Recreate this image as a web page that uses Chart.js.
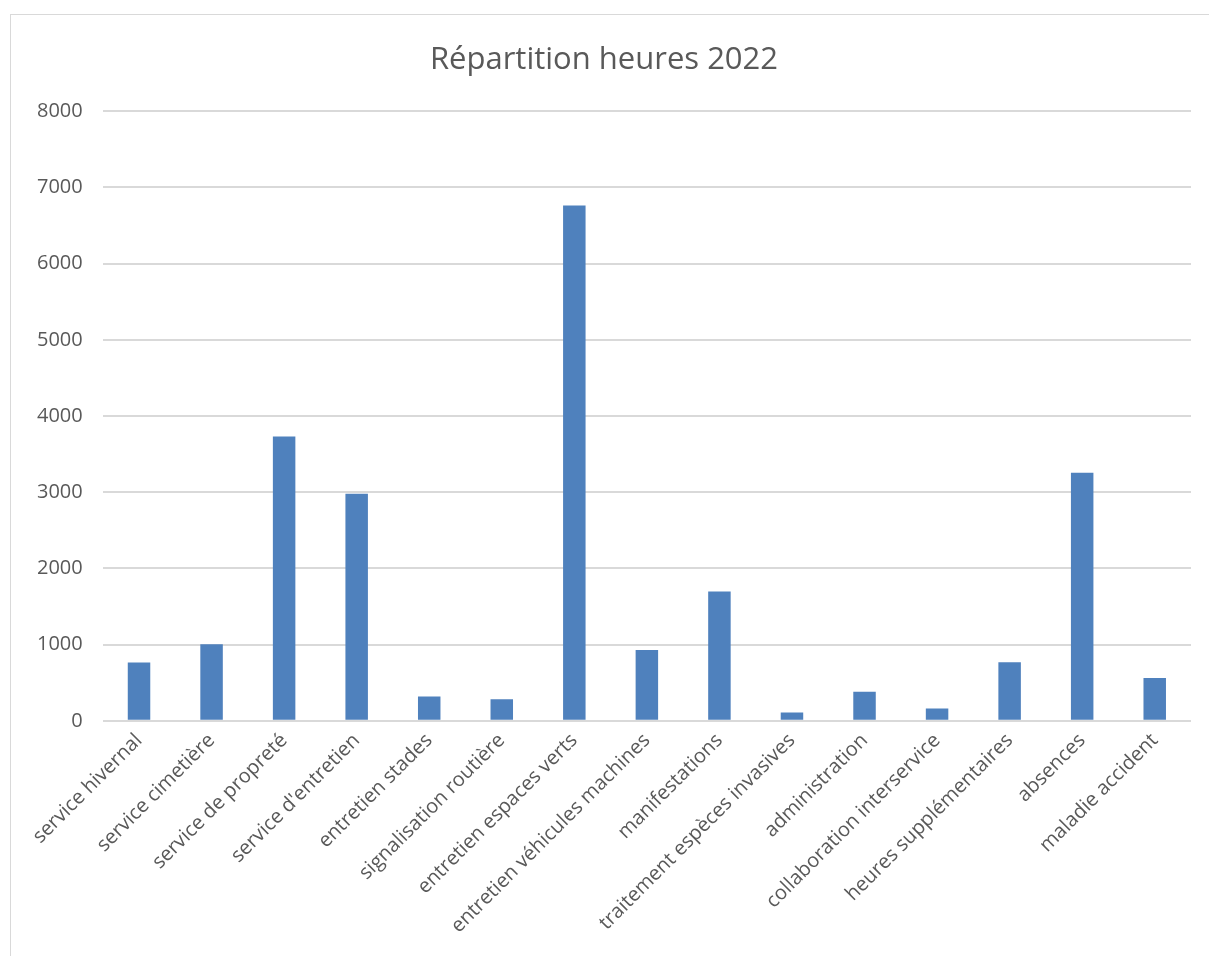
<!DOCTYPE html>
<html>
<head>
<meta charset="utf-8">
<script src="https://cdn.jsdelivr.net/npm/chart.js@4"></script>
<style>
  body { margin: 0; background: #fff; }
  #frame {
    position: absolute; left: 10px; top: 14px;
    width: 1210px; height: 950px;
    border: 1px solid #d9d9d9;
  }
</style>
</head>
<body>
<div id="frame"><canvas id="chart" width="1198" height="941"></canvas></div>
<script>
const categories = [
  'service hivernal', 'service cimetière', 'service de propreté', "service d'entretien",
  'entretien stades', 'signalisation routière', 'entretien espaces verts',
  'entretien véhicules machines', 'manifestations', 'traitement espèces invasives',
  'administration', 'collaboration interservice', 'heures supplémentaires',
  'absences', 'maladie accident'
];
const heures = [765, 1005, 3730, 2980, 320, 284, 6763, 929, 1697, 110, 380, 162, 768, 3255, 563];
const yMin = 0;
const yMax = 8000;
const yStep = 1000;

const textColor = '#595959';
const gridColor = '#d9d9d9';
const font = "'Open Sans', sans-serif";

const ctx = document.getElementById('chart').getContext('2d');

new Chart(ctx, {
  type: 'bar',
  data: {
    labels: categories,
    datasets: [{
      label: 'heures',
      data: heures,
      backgroundColor: '#4f81bd',
      categoryPercentage: 1,
      barPercentage: 0.31
    }]
  },
  options: {
    responsive: false,
    animation: false,
    layout: { padding: { left: 6, right: 18, top: 0, bottom: 18 } },
    plugins: {
      legend: { display: false },
      tooltip: { enabled: false },
      title: {
        display: true,
        text: 'Répartition heures 2022',
        color: textColor,
        font: { family: font, size: 31, weight: 'normal' },
        padding: { top: 27, bottom: 32 }
      }
    },
    scales: {
      x: {
        grid: { display: false },
        border: { display: false },
        ticks: {
          color: textColor,
          font: { family: font, size: 20 },
          minRotation: 45,
          maxRotation: 45,
          autoSkip: false,
          padding: 0
        }
      },
      y: {
        min: yMin,
        max: yMax,
        grid: { color: gridColor, lineWidth: 2, drawTicks: false },
        border: { display: false },
        ticks: {
          stepSize: yStep,
          color: textColor,
          font: { family: font, size: 20 },
          padding: 20,
          callback: (v) => String(v)
        }
      }
    }
  }
});
</script>
</body>
</html>
